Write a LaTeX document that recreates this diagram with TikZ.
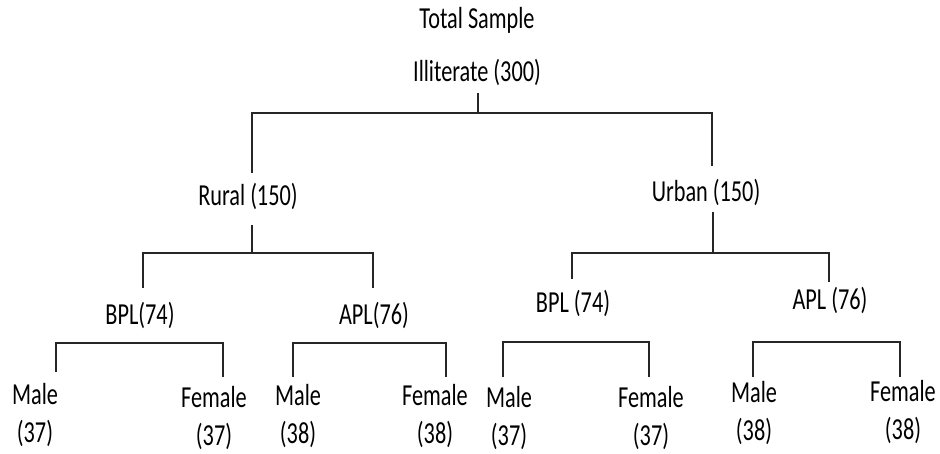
\documentclass[tikz,border=0pt]{standalone}
\usepackage{fontspec}
\newfontfamily\cf[FakeStretch=0.73]{Carlito}
\begin{document}
\begin{tikzpicture}[x=1pt,y=-1pt,
  lbl/.style={font=\cf\fontsize{30.5}{38}\selectfont, text=black, inner sep=0pt, align=center},
  branch/.style={draw=black!85, line width=1.7pt}]
\useasboundingbox (0,0) rectangle (940,454);
% text nodes
\node[lbl] (ts) at (477,20) {Total Sample};
\node[lbl] (il) at (477,72) {Illiterate (300)};
\node[lbl] (ru) at (248,196) {Rural (150)};
\node[lbl] (ur) at (706,192) {Urban (150)};
\node[lbl] (bl) at (140,315) {BPL(74)};
\node[lbl] (al) at (374,315) {APL(76)};
\node[lbl] (br) at (573,303) {BPL (74)};
\node[lbl] (ar) at (830,300) {APL (76)};
\node[lbl] (m1) at (35,415) {Male\\(37)};
\node[lbl] (f1) at (214,418) {Female\\(37)};
\node[lbl] (m2) at (298,416) {Male\\(38)};
\node[lbl] (f2) at (435,416) {Female\\(38)};
\node[lbl] (m3) at (509,418) {Male\\(37)};
\node[lbl] (f3) at (651,418) {Female\\(37)};
\node[lbl] (m4) at (754,413) {Male\\(38)};
\node[lbl] (f4) at (903,412) {Female\\(38)};
% branch coordinates
\coordinate (r0) at (478,93);
\coordinate (r1) at (478,113);
\coordinate (rl) at (252,173);
\coordinate (rr) at (712,166);
\coordinate (u0) at (252,225);
\coordinate (u1) at (252,253);
\coordinate (ul) at (143,288);
\coordinate (urr) at (373,288);
\coordinate (v0) at (713,212);
\coordinate (v1) at (713,253);
\coordinate (vl) at (572,279);
\coordinate (vr) at (829,282);
\coordinate (a1) at (140,343);
\coordinate (al1) at (56,372);
\coordinate (ar1) at (223,377);
\coordinate (a2) at (370,343);
\coordinate (al2) at (293,377);
\coordinate (ar2) at (446,377);
\coordinate (a3) at (576,342);
\coordinate (al3) at (503,377);
\coordinate (ar3) at (649,377);
\coordinate (a4) at (826,342);
\coordinate (al4) at (753,377);
\coordinate (ar4) at (900,377);
% connectors
\draw[branch] (r0) -- (r1);
\draw[branch] (rl) |- (r1) -| (rr);
\draw[branch] (u0) -- (u1);
\draw[branch] (ul) |- (u1) -| (urr);
\draw[branch] (v0) -- (v1);
\draw[branch] (vl) |- (v1) -| (vr);
\draw[branch] (al1) |- (a1) -| (ar1);
\draw[branch] (al2) |- (a2) -| (ar2);
\draw[branch] (al3) |- (a3) -| (ar3);
\draw[branch] (al4) |- (a4) -| (ar4);
\end{tikzpicture}
\end{document}
